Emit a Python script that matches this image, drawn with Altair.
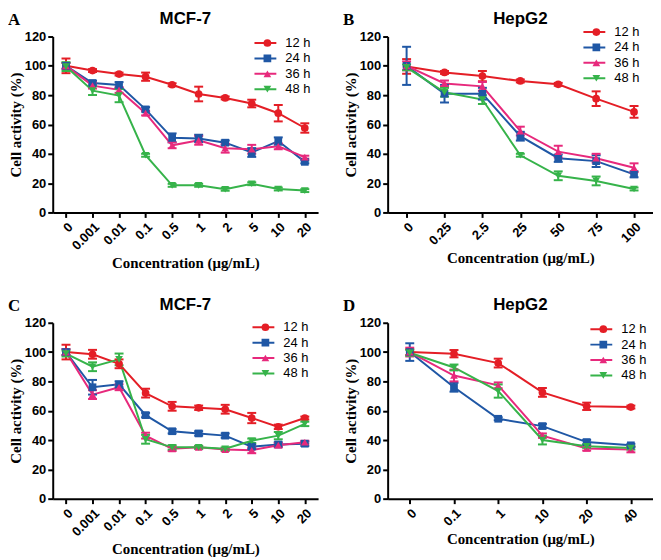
import altair as alt
import pandas as pd

SERIES = ["12 h", "24 h", "36 h", "48 h"]
COLORS = ["#e41e26", "#1f57a5", "#e7297c", "#36b34a"]
SHAPES = ["circle", "square", "triangle-up", "triangle-down"]

# Panel A (MCF-7)
A_conc = ["0", "0.001", "0.01", "0.1", "0.5", "1", "2", "5", "10", "20"]
A_12 = [100, 96.8, 94.4, 92.6, 87.1, 80.8, 78.1, 74.3, 67.7, 57.6]
A_12e = [5, 1, 1, 2.8, 1, 5, 1, 2.6, 5.6, 3.2]
A_24 = [100, 88.3, 86.9, 70.3, 50.9, 50.5, 47.6, 40.9, 48.7, 34.5]
A_24e = [2, 1.5, 2, 1.5, 3, 2.5, 1.5, 3, 2.5, 1]
A_36 = [100, 86.5, 83.6, 67.7, 45.8, 49.2, 43.8, 43.1, 45.1, 37.7]
A_36e = [2, 2, 2, 1.5, 2, 3, 3, 3, 2, 1]
A_48 = [99.5, 83.1, 79.7, 39, 18.5, 18.5, 15.8, 19.6, 16, 14.9]
A_48e = [3, 3, 4.5, 1, 1, 1, 1, 1, 1, 1]

# Panel B (HepG2)
B_conc = ["0", "0.25", "2.5", "25", "50", "75", "100"]
B_12 = [99.6, 95.5, 93, 89.7, 87.4, 77.6, 68.6]
B_12e = [5, 1, 3.5, 1, 1, 5, 4]
B_24 = [100, 81, 81, 52, 37, 35, 26]
B_24e = [13, 6, 4, 3, 2.5, 4, 2]
B_36 = [100, 88, 86, 55.5, 41.5, 37, 30.5]
B_36e = [3, 2, 3, 3, 4, 3, 3]
B_48 = [99, 82, 77, 39, 25, 21.5, 16]
B_48e = [2, 3, 3, 1, 3, 3, 1]

# Panel C (MCF-7)
C_conc = ["0", "0.001", "0.01", "0.1", "0.5", "1", "2", "5", "10", "20"]
C_12 = [100, 98.5, 92, 72, 63, 62, 61, 55, 49, 55]
C_12e = [5, 3, 3, 3, 3, 1.5, 3, 3.5, 1.5, 1]
C_24 = [100, 76, 78, 57, 46, 44.5, 43, 35.5, 37, 37.5]
C_24e = [2, 5, 2, 1.5, 1.5, 1.5, 1.5, 1.5, 1.5, 1.5]
C_36 = [100, 71, 76, 43, 34, 35, 33.5, 33, 36.5, 38.5]
C_36e = [2, 3, 2, 2, 1.5, 1, 1, 2, 1.5, 1]
C_48 = [99, 90, 95, 40.5, 35, 35, 34, 39.5, 43, 51]
C_48e = [2, 3, 4, 3, 1.5, 1, 1, 1.5, 2.5, 1.5]

# Panel D (HepG2)
D_conc = ["0", "0.1", "1", "10", "20", "40"]
D_12 = [100, 98.9, 92.5, 72.5, 63, 62.5]
D_12e = [2, 2.5, 3, 3, 2.5, 1]
D_24 = [100, 76, 54.5, 49.5, 38.6, 36.4]
D_24e = [6, 3, 1, 1.5, 1.5, 1]
D_36 = [100, 84, 77.3, 43, 34.3, 33.6]
D_36e = [3, 4, 2, 1.5, 1.5, 2]
D_48 = [99.5, 89.5, 73.4, 40, 35.7, 34.5]
D_48e = [2, 2, 4.5, 3, 1, 1]

SANS = "Liberation Sans"
SERIF = "Liberation Serif"
W, H = 267, 177


def long_df(conc, vals, errs):
    rows = []
    for s, v, e in zip(SERIES, vals, errs):
        for i, (c, vv, ee) in enumerate(zip(conc, v, e)):
            rows.append(dict(conc=c, series=s, series2=s, value=vv,
                             lo=vv - ee, hi=vv + ee, order=i))
    return pd.DataFrame(rows)


def panel(letter, title, conc, vals, errs, lx, ly):
    df = long_df(conc, vals, errs)
    x = alt.X("conc:O", sort=conc, scale=alt.Scale(type="point", padding=0.5),
              axis=alt.Axis(title="Concentration (μg/mL)", labelAngle=-45,
                            labelFont=SANS, labelFontSize=13, labelFontWeight="bold",
                            labelColor="black", labelPadding=3,
                            titleFont=SERIF, titleFontSize=15, titleFontWeight="bold",
                            titleColor="black", titlePadding=3,
                            domainColor="black", domainWidth=2,
                            tickColor="black", tickWidth=2, tickSize=5))
    yscale = alt.Scale(domain=[0, 120], nice=False)
    yaxis = alt.Axis(title="Cell activity (%)", values=[0, 20, 40, 60, 80, 100, 120],
                     labelOverlap=False,
                     labelFont=SANS, labelFontSize=13, labelFontWeight="bold",
                     labelColor="black", labelPadding=2,
                     titleFont=SERIF, titleFontSize=15, titleFontWeight="bold",
                     titleColor="black", titlePadding=1,
                     domainColor="black", domainWidth=2,
                     tickColor="black", tickWidth=2, tickSize=5, grid=False)
    y = alt.Y("value:Q", scale=yscale, axis=yaxis)
    ylo = alt.Y("lo:Q", scale=yscale, axis=yaxis)
    yhi = alt.Y("hi:Q", scale=yscale, axis=yaxis)
    base = alt.Chart(df)

    stroke_leg = alt.Legend(title=None, orient="none", legendX=lx, legendY=ly,
                            symbolType="stroke", symbolSize=484, symbolStrokeWidth=2,
                            clipHeight=15, rowPadding=0.5, padding=0,
                            labelFont=SANS, labelFontSize=13, labelColor="black",
                            labelOffset=8)
    point_leg = alt.Legend(title=None, orient="none", legendX=lx + 7.5, legendY=ly,
                           symbolSize=60, symbolStrokeWidth=0, clipHeight=15,
                           rowPadding=0.5, padding=0, labelExpr="''",
                           labelFontSize=13)

    lines = base.mark_line(strokeWidth=2).encode(
        x=x, y=y,
        stroke=alt.Stroke("series:N", scale=alt.Scale(domain=SERIES, range=COLORS),
                          legend=stroke_leg),
        order=alt.Order("order:Q"))

    layers = [lines]
    for s, col in zip(SERIES, COLORS):
        sub = base.transform_filter(alt.datum.series == s)
        layers.append(sub.mark_rule(strokeWidth=2, color=col).encode(
            x=x, y=ylo, y2="hi:Q"))
        layers.append(sub.mark_tick(thickness=2, size=9, color=col, opacity=1).encode(
            x=x, y=ylo))
        layers.append(sub.mark_tick(thickness=2, size=9, color=col, opacity=1).encode(
            x=x, y=yhi))

    points = base.mark_point(filled=True, size=60, opacity=1).encode(
        x=x, y=y,
        color=alt.Color("series2:N", scale=alt.Scale(range=COLORS), legend=point_leg),
        shape=alt.Shape("series2:N", scale=alt.Scale(range=SHAPES), legend=point_leg))
    layers.append(points)

    lab = alt.Chart(pd.DataFrame({"letter": [letter]})).mark_text(
        font=SERIF, fontSize=17, fontWeight="bold", align="left",
        baseline="alphabetic", color="black").encode(
        text="letter:N", x=alt.value(-45), y=alt.value(-12))
    layers.append(lab)

    return alt.layer(*layers).properties(
        width=W, height=H,
        title=alt.TitleParams(title, font=SANS, fontSize=17, fontWeight="bold",
                              color="black", offset=-17, anchor="middle",
                              frame="group"))


pA = panel("A", "MCF-7", A_conc, [A_12, A_24, A_36, A_48], [A_12e, A_24e, A_36e, A_48e], 202, -1)
pB = panel("B", "HepG2", B_conc, [B_12, B_24, B_36, B_48], [B_12e, B_24e, B_36e, B_48e], 196, -12)
pC = panel("C", "MCF-7", C_conc, [C_12, C_24, C_36, C_48], [C_12e, C_24e, C_36e, C_48e], 200, -3)
pD = panel("D", "HepG2", D_conc, [D_12, D_24, D_36, D_48], [D_12e, D_24e, D_36e, D_48e], 203, -1)

chart = alt.concat(pA, pB, pC, pD, columns=2, bounds="flush",
                   spacing={"row": 111, "column": 70}).resolve_scale(
    x="independent", y="independent", color="independent",
    shape="independent", stroke="independent").properties(
    padding=0, background="white").configure_view(stroke=None)

chart.save("out.html", embed_options={"renderer": "svg", "actions": False})
